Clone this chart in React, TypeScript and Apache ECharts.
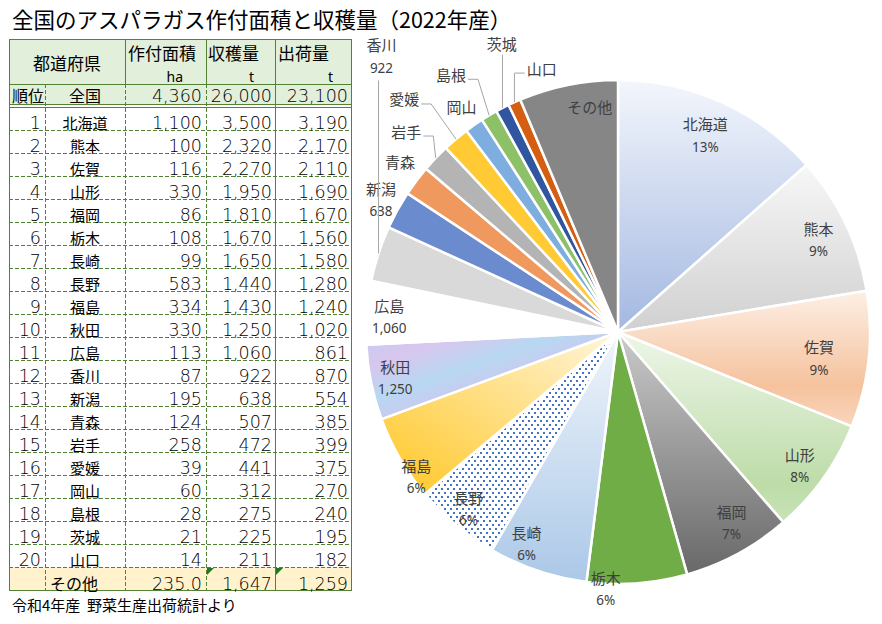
import React, { useEffect, useRef } from 'react';
import * as echarts from 'echarts';

// ---------------- data ----------------
const TITLE = '全国のアスパラガス作付面積と収穫量（2022年産）';
const SOURCE_NOTE = '令和4年産  野菜生産出荷統計より';

const prefectures = ['北海道', '熊本', '佐賀', '山形', '福岡', '栃木', '長崎', '長野', '福島', '秋田',
  '広島', '香川', '新潟', '青森', '岩手', '愛媛', '岡山', '島根', '茨城', '山口'];
const plantedAreaHa = [1100, 100, 116, 330, 86, 108, 99, 583, 334, 330, 113, 87, 195, 124, 258, 39, 60, 28, 21, 14];
const harvestT = [3500, 2320, 2270, 1950, 1810, 1670, 1650, 1440, 1430, 1250, 1060, 922, 638, 507, 472, 441, 312, 275, 225, 211];
const shipmentT = [3190, 2170, 2110, 1690, 1670, 1560, 1580, 1280, 1240, 1020, 861, 870, 554, 385, 399, 375, 270, 240, 195, 182];

const nationalLabel = '全国';
const rankHeader = '順位';
const prefHeader = '都道府県';
const nationalValues = [4360, 26000, 23100];
const othersLabel = 'その他';
const othersValues = [235.0, 1647, 1259];
const columnHeaders = ['作付面積', '収穫量', '出荷量'];
const columnUnits = ['ha', 't', 't'];

// what each pie label shows: percentage, value, or name only
const pieLabelKinds = ['pct', 'pct', 'pct', 'pct', 'pct', 'pct', 'pct', 'pct', 'pct',
  'value', 'value', 'value', 'value',
  'name', 'name', 'name', 'name', 'name', 'name', 'name', 'name'];

// ---------------- layout / style ----------------
const CX = 618, CY = 332, R = 252;
const labelRadiusFactor = [0.854, 0.876, 0.804, 0.895, 0.88, 1.021, 0.916, 0.919, 0.985, 0.902, 0.91,
  1.441, 1.077, 1.101, 1.161, 1.258, 1.094, 1.222, 1.237, 1.094, 0.907];
const labelAngleShift = [-0.3, 0.8, 1.1, 0.8, -2.3, 7.1, 4.7, 0.2, -5.5, 0, -0.6,
  31.2, 0.2, 1.3, 0, -2.4, 0.2, -2.1, 5.4, 8.2, 4.3];
const leaderKinds = ['none', 'none', 'none', 'none', 'none', 'none', 'none', 'none', 'none', 'none', 'none',
  'v', 'none', 'none', 'r', 'r', 'none', 'r', 'v', 'l', 'none'];

const GREEN = '#548235';
const CJK = '"Noto Sans CJK JP", "Noto Sans", sans-serif';
const NUM = '"DejaVu Sans", sans-serif';

const colXs = [9, 45, 125, 206, 275, 351];
const tableTop = 39, headerBottom = 84, nationalBottom = 104, dataTop = 107, rowH = 23;

function fmt(v: number) {
  return v.toLocaleString('en-US');
}

export default function App() {
  const ref = useRef<HTMLDivElement>(null);

  useEffect(() => {
    const el = ref.current!;
    const chart = echarts.init(el, undefined, { renderer: 'svg' });

    const LG = (stops: [number, string][], x = 0, y = 0, x2 = 0, y2 = 1) =>
      new echarts.graphic.LinearGradient(x, y, x2, y2, stops.map(([offset, color]) => ({ offset, color })));

    const fills: any[] = [
      LG([[0, '#f3f6fc'], [1, '#a3b8e1']]),
      LG([[0, '#f7f7f7'], [1, '#d0d0d0']]),
      LG([[0, '#fdefe5'], [0.7, '#f5c29d'], [1, '#f9d6bd']]),
      LG([[0, '#eef6e9'], [0.8, '#bddca8'], [1, '#c9e3b8']]),
      LG([[0, '#cacaca'], [1, '#686868']]),
      '#70ad47',
      LG([[0, '#f0f5fb'], [1, '#abc8e8']]),
      '#ffffff',
      LG([[0, '#ffc623'], [1, '#fff6dc']], 0, 1, 1, 0),
      LG([[0, '#c4cdf2'], [0.2, '#d8c6ee'], [0.4, '#b8d8f2'], [0.6, '#cfc5ee'], [0.8, '#bccff3'], [1, '#d3c9ee']], 0, 0, 1, 1),
      '#ffffff',
      '#d9d9d9',
      '#6a8bcd',
      '#f0995e',
      '#b4b4b4',
      '#ffca33',
      '#7eaee0',
      '#8dc168',
      '#30569f',
      '#d45f12',
      '#868686',
    ];

    const pieNames = [...prefectures, othersLabel];
    const pieValues = [...harvestT, othersValues[1]];
    const total = pieValues.reduce((a, b) => a + b, 0);
    const midAngles: number[] = [];
    let cum = 0;
    pieValues.forEach((v) => {
      midAngles.push(((cum + v / 2) / total) * 360);
      cum += v;
    });

    const labelPos = (i: number) => {
      const a = ((midAngles[i] + labelAngleShift[i]) * Math.PI) / 180;
      const r = R * labelRadiusFactor[i];
      return [CX + r * Math.sin(a), CY - r * Math.cos(a)];
    };
    const edgePos = (i: number) => {
      const a = (midAngles[i] * Math.PI) / 180;
      return [CX + R * Math.sin(a), CY - R * Math.cos(a)];
    };

    const data = pieNames.map((name, i) => {
      const itemStyle: any = { color: fills[i] };
      if (name === '長野') {
        itemStyle.decal = {
          symbol: 'rect',
          symbolSize: 1,
          color: '#4472c4',
          backgroundColor: '#ffffff',
          dashArrayX: [[2, 4], [0, 3, 2, 1]],
          dashArrayY: [2, 2],
          rotation: 0,
        };
      }
      return { name, value: pieValues[i], itemStyle };
    });

    // ---------- graphic: table ----------
    const g: any[] = [];
    const hline = (x1: number, x2: number, y: number, dashed = false) =>
      g.push({
        type: 'line', silent: true, z: 5,
        shape: { x1, y1: y + 0.5, x2, y2: y + 0.5 },
        style: { stroke: GREEN, lineWidth: 1, lineDash: dashed ? [4, 2] : null },
      });
    const vline = (x: number, y1: number, y2: number, dashed = false) =>
      g.push({
        type: 'line', silent: true, z: 5,
        shape: { x1: x + 0.5, y1, x2: x + 0.5, y2 },
        style: { stroke: GREEN, lineWidth: 1, lineDash: dashed ? [4, 2] : null },
      });
    const text = (t: string, x: number, y: number, size: number, family: string, align: string, weight = 'normal') =>
      g.push({
        type: 'text', silent: true, z: 6,
        style: {
          text: t, x, y, font: `${weight} ${size}px ${family}`, fill: '#000000',
          textAlign: align, textVerticalAlign: 'middle',
        },
      });
    const num = (t: string, x: number, y: number) => text(t, x, y, 17.5, NUM, 'right', '200');
    const rect = (x: number, y: number, w: number, h: number, fill: string) =>
      g.push({ type: 'rect', silent: true, z: 4, shape: { x, y, width: w, height: h }, style: { fill } });

    const left = colXs[0], right = colXs[5], width = right - left;
    const dataBottom = dataTop + rowH * prefectures.length;
    const tableBottom = dataBottom + rowH;

    rect(left, tableTop, width, headerBottom - tableTop, '#e2efda');
    rect(left, headerBottom, width, nationalBottom - headerBottom, '#e2efda');
    rect(left, dataBottom, width, rowH, '#fff2cc');

    // horizontal lines
    hline(left, right + 1, tableTop);
    hline(left, right + 1, headerBottom);
    hline(left, right + 1, nationalBottom);
    hline(left, right + 1, nationalBottom + 3);
    for (let i = 1; i <= prefectures.length; i++) hline(left, right, dataTop + rowH * i, true);
    hline(left, right + 1, tableBottom);
    // vertical lines
    vline(colXs[0], tableTop, tableBottom + 1);
    vline(colXs[5], tableTop, tableBottom + 1);
    vline(colXs[1], headerBottom, tableBottom, true);
    vline(colXs[2], tableTop, headerBottom);
    vline(colXs[2], headerBottom, tableBottom, true);
    vline(colXs[3], tableTop, headerBottom);
    vline(colXs[3], headerBottom, tableBottom, true);
    vline(colXs[4], tableTop, tableBottom);

    // header texts
    text(prefHeader, (colXs[0] + colXs[2]) / 2, 62, 17, CJK, 'center');
    const headLeft = [128, 208, 278];
    const unitRight = [183, 254, 333];
    const numRight = [202, 272, 348];
    columnHeaders.forEach((h, k) => text(h, headLeft[k], 52, 17, CJK, 'left'));
    columnUnits.forEach((u, k) => text(u, unitRight[k], 76, 14, '"Noto Sans", sans-serif', 'right'));

    // national row
    text(rankHeader, 12, 95, 16, CJK, 'left');
    text(nationalLabel, 85, 95, 16, CJK, 'center');
    nationalValues.forEach((v, k) => num(fmt(v), numRight[k], 95.5));

    // data rows
    prefectures.forEach((p, i) => {
      const bottom = dataTop + rowH * (i + 1);
      num(String(i + 1), 41, bottom - 7.5);
      text(p, 85, bottom - 7.5, 15, CJK, 'center');
      num(fmt(plantedAreaHa[i]), numRight[0], bottom - 7.5);
      num(fmt(harvestT[i]), numRight[1], bottom - 7.5);
      num(fmt(shipmentT[i]), numRight[2], bottom - 7.5);
    });

    // others row
    text(othersLabel, 50, tableBottom - 7, 16, CJK, 'left');
    num(othersValues[0].toFixed(1), numRight[0], tableBottom - 6.5);
    num(fmt(othersValues[1]), numRight[1], tableBottom - 6.5);
    num(fmt(othersValues[2]), numRight[2], tableBottom - 6.5);
    [colXs[3], colXs[4]].forEach((x) =>
      g.push({
        type: 'polygon', silent: true, z: 7,
        shape: { points: [[x + 1, dataBottom + 1], [x + 8, dataBottom + 1], [x + 1, dataBottom + 8]] },
        style: { fill: '#1f7a1f' },
      })
    );

    // title & source
    text(TITLE, 12, 18.5, 21.5, CJK, 'left');
    text(SOURCE_NOTE, 12, 604.5, 15, CJK, 'left');

    // leader lines
    pieNames.forEach((name, i) => {
      const kind = leaderKinds[i];
      if (kind === 'none') return;
      const [lx, ly] = labelPos(i);
      const [ex, ey] = edgePos(i);
      const twoLines = pieLabelKinds[i] !== 'name';
      const w = name.length * 15;
      let pts: number[][] = [];
      if (kind === 'v') pts = [[ex, ly + (twoLines ? 24 : 12)], [ex, ey]];
      else if (kind === 'r') pts = [[lx + w / 2 + 2, ly + 6], [lx + w / 2 + 12, ly + 6], [ex, ey]];
      else pts = [[lx - w / 2 - 2, ly + 6], [ex, ly + 6], [ex, ey]];
      g.push({
        type: 'polyline', silent: true, z: 8,
        shape: { points: pts },
        style: { stroke: '#a6a6a6', lineWidth: 1, fill: null },
      });
    });

    const option: any = {
      animation: false,
      backgroundColor: '#ffffff',
      graphic: { elements: g },
      series: [
        {
          type: 'pie',
          center: [CX, CY],
          radius: R,
          startAngle: 90,
          clockwise: true,
          avoidLabelOverlap: false,
          silent: true,
          itemStyle: { borderColor: '#ffffff', borderWidth: 2.5 },
          label: {
            show: true,
            position: 'outside',
            formatter: (p: any) => {
              const kind = pieLabelKinds[p.dataIndex];
              if (kind === 'pct') return `{n|${p.name}}\n{v|${Math.round((p.value / total) * 100)}%}`;
              if (kind === 'value') return `{n|${p.name}}\n{v|${fmt(p.value)}}`;
              return `{n|${p.name}}`;
            },
            rich: {
              n: { fontSize: 15, fontFamily: CJK, color: '#404040', lineHeight: 23, align: 'center' },
              v: { fontSize: 13.5, fontFamily: '"Noto Sans", sans-serif', color: '#404040', lineHeight: 23, align: 'center' },
            },
          },
          labelLine: { show: false },
          labelLayout: (p: any) => {
            const [x, y] = labelPos(p.dataIndex);
            const single = pieLabelKinds[p.dataIndex] === 'name';
            return { x, y: single ? y + 1 : y, align: 'center', verticalAlign: 'middle' };
          },
          data,
        },
      ],
    };

    chart.setOption(option);
    return () => chart.dispose();
  }, []);

  return (
    <div
      ref={ref}
      style={{ position: 'absolute', left: 0, top: 0, width: 882, height: 624, background: '#ffffff' }}
    />
  );
}
